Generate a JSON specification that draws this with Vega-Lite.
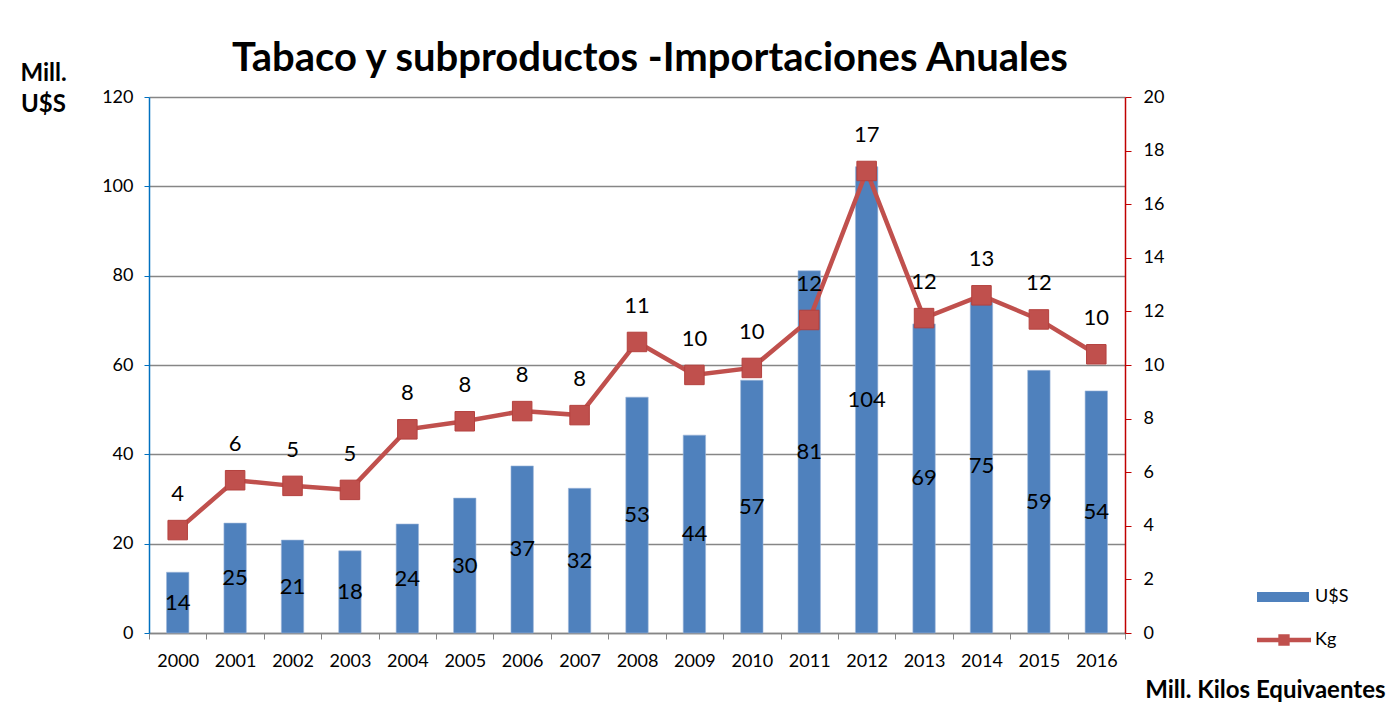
{
  "$schema": "https://vega.github.io/schema/vega-lite/v6.json",
  "width": 976,
  "height": 536,
  "autosize": {"type": "none"},
  "padding": {"left": 149, "top": 97, "right": 262, "bottom": 73},
  "background": "white",
  "config": {
    "font": "Lato",
    "view": {"stroke": null},
    "axis": {"labelFont": "Lato", "titleFont": "Lato", "labelColor": "black", "titleColor": "black"},
    "legend": {"labelFont": "Lato", "labelColor": "black"}
  },
  "title": {
    "text": "Tabaco y subproductos -Importaciones Anuales",
    "font": "Lato",
    "fontSize": 40,
    "fontWeight": "bold",
    "color": "black",
    "anchor": "middle",
    "frame": "group",
    "baseline": "alphabetic",
    "dx": 13,
    "dy": 50,
    "offset": 0
  },
  "data": {
    "values": [
      {"year": "2000", "usd": 13.6, "kg": 3.84},
      {"year": "2001", "usd": 24.6, "kg": 5.7},
      {"year": "2002", "usd": 20.8, "kg": 5.49},
      {"year": "2003", "usd": 18.4, "kg": 5.34},
      {"year": "2004", "usd": 24.4, "kg": 7.6},
      {"year": "2005", "usd": 30.2, "kg": 7.9},
      {"year": "2006", "usd": 37.4, "kg": 8.28},
      {"year": "2007", "usd": 32.4, "kg": 8.13},
      {"year": "2008", "usd": 52.8, "kg": 10.86},
      {"year": "2009", "usd": 44.3, "kg": 9.63},
      {"year": "2010", "usd": 56.6, "kg": 9.89},
      {"year": "2011", "usd": 81.1, "kg": 11.68},
      {"year": "2012", "usd": 104.4, "kg": 17.24},
      {"year": "2013", "usd": 69.2, "kg": 11.75},
      {"year": "2014", "usd": 75.0, "kg": 12.6},
      {"year": "2015", "usd": 58.8, "kg": 11.7},
      {"year": "2016", "usd": 54.2, "kg": 10.4}
    ]
  },
  "encoding": {
    "x": {
      "field": "year",
      "type": "ordinal",
      "scale": {"paddingInner": 0, "paddingOuter": 0},
      "axis": {
        "title": null,
        "labelAngle": 0,
        "tickBand": "extent",
        "grid": false,
        "domainColor": "#868686",
        "domainWidth": 1.3,
        "tickColor": "#868686",
        "tickSize": 6,
        "labelFontSize": 18,
        "labelPadding": 13
      }
    }
  },
  "layer": [
    {
      "mark": {"type": "bar", "width": {"band": 0.39}, "stroke": "#9DB7DA", "strokeWidth": 0.6},
      "encoding": {
        "y": {
          "field": "usd",
          "type": "quantitative",
          "scale": {"domain": [0, 120]},
          "axis": {
            "orient": "left",
            "values": [0, 20, 40, 60, 80, 100, 120],
            "title": ["Mill.", "U$S"],
            "titleAngle": 0,
            "titleAlign": "center",
            "titleBaseline": "top",
            "titleX": -106,
            "titleY": -36,
            "titleFontSize": 24,
            "titleFontWeight": "bold",
            "titleLineHeight": 31,
            "grid": true,
            "gridColor": "#868686",
            "gridWidth": 1.3,
            "domainColor": "#0070C0",
            "domainWidth": 1.5,
            "tickColor": "#0070C0",
            "tickSize": 5,
            "labelFontSize": 18,
            "labelPadding": 11
          }
        },
        "fill": {
          "datum": "U$S",
          "scale": {"range": ["#4F81BD"]},
          "legend": {
            "title": null,
            "orient": "none",
            "legendX": 1108,
            "legendY": 474,
            "padding": 0,
            "symbolType": "M-1,-0.19L1,-0.19L1,0.19L-1,0.19Z",
            "symbolSize": 2704,
            "symbolStrokeWidth": 0,
            "labelFontSize": 18,
            "labelOffset": 6
          }
        }
      }
    },
    {
      "mark": {"type": "text", "fontSize": 22, "color": "black", "baseline": "middle"},
      "encoding": {
        "y": {"field": "usd", "type": "quantitative", "scale": {"domain": [0, 240]}, "axis": null},
        "text": {"field": "usd", "type": "quantitative", "format": ".0f"}
      }
    },
    {
      "encoding": {
        "y": {
          "field": "kg",
          "type": "quantitative",
          "scale": {"domain": [0, 20]},
          "axis": {
            "orient": "right",
            "values": [0, 2, 4, 6, 8, 10, 12, 14, 16, 18, 20],
            "grid": false,
            "domainColor": "#C00000",
            "domainWidth": 1.5,
            "tickColor": "#C00000",
            "tickSize": 6,
            "labelFontSize": 18,
            "labelPadding": 12,
            "title": "Mill. Kilos Equivaentes",
            "titleAngle": 0,
            "titleAlign": "right",
            "titleBaseline": "alphabetic",
            "titleX": 260,
            "titleY": 600,
            "titleFontSize": 24,
            "titleFontWeight": "bold"
          }
        }
      },
      "layer": [
        {
          "mark": {"type": "line", "strokeWidth": 4.5},
          "encoding": {
            "stroke": {
              "datum": "Kg",
              "scale": {"range": ["#C0504D"]},
              "legend": {
                "title": null,
                "orient": "none",
                "legendX": 1108,
                "legendY": 516,
                "padding": 0,
                "symbolType": "M-1,-0.08L-0.21,-0.08L-0.21,-0.21L0.21,-0.21L0.21,-0.08L1,-0.08L1,0.08L0.21,0.08L0.21,0.21L-0.21,0.21L-0.21,0.08L-1,0.08Z",
                "symbolSize": 2916,
                "symbolStrokeWidth": 0,
                "symbolFillColor": "#C0504D",
                "labelFontSize": 18,
                "labelOffset": 4,
                "encode": {"symbols": {"update": {"fill": {"value": "#C0504D"}, "strokeWidth": {"value": 0}}}}
              }
            }
          }
        },
        {
          "mark": {"type": "point", "shape": "square", "size": 380, "filled": true, "color": "#C0504D", "stroke": "#B4413E", "strokeWidth": 1, "opacity": 1}
        },
        {
          "mark": {"type": "text", "fontSize": 22, "color": "black", "baseline": "middle", "dy": -36},
          "encoding": {
            "text": {"field": "kg", "type": "quantitative", "format": ".0f"}
          }
        }
      ]
    }
  ],
  "resolve": {"scale": {"y": "independent"}}
}
